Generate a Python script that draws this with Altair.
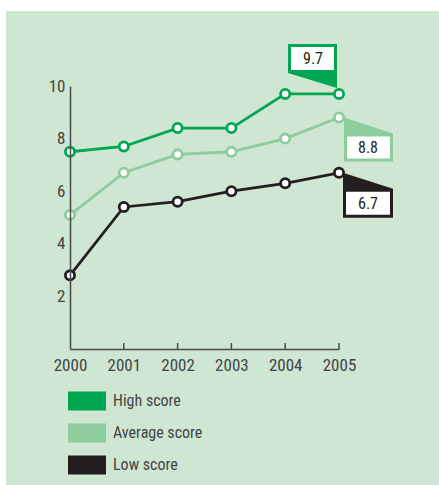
import altair as alt
import pandas as pd

years = [2000, 2001, 2002, 2003, 2004, 2005]
series_names = ["High score", "Average score", "Low score"]
high = [7.5, 7.7, 8.4, 8.4, 9.7, 9.7]
average = [5.1, 6.7, 7.4, 7.5, 8.0, 8.8]
low = [2.8, 5.4, 5.6, 6.0, 6.3, 6.7]
colors = ["#00a651", "#8dcc9d", "#231f20"]
y_ticks = [2, 4, 6, 8, 10]

FONT = "Liberation Sans Narrow, Roboto Condensed, DejaVu Sans Condensed, Arial Narrow, sans-serif"

rows = []
for name, vals in zip(series_names, [high, average, low]):
    for yr, v in zip(years, vals):
        rows.append({"series": name, "year": yr, "value": v})
df = pd.DataFrame(rows)

# callouts for last values (shapes are relative to the data point, in pixels)
outer_paths = [
    "M-51,-50L-2,-50L-2,-6L-51,-21Z",
    "M5,0L54,16L54,44L5,44Z",
    "M4,0L54,16L54,45L4,45Z",
]
inner_paths = [
    "M-48,-47L-5,-47L-5,-24L-48,-24Z",
    "M8,19L51,19L51,41L8,41Z",
    "M7,19L51,19L51,42L7,42Z",
]
text_dx = [-26, 29, 29]
text_dy = [-35, 30, 31]
call = pd.DataFrame({
    "series": series_names,
    "year": [years[-1]] * 3,
    "value": [high[-1], average[-1], low[-1]],
    "outer": outer_paths,
    "inner": inner_paths,
    "label": [f"{v:.1f}" for v in [high[-1], average[-1], low[-1]]],
})

xs = alt.Scale(domain=[2000, 2005], nice=False, zero=False)
ys = alt.Scale(domain=[0, 10], nice=False)

X = alt.X("year:Q", scale=xs, axis=alt.Axis(values=years, format="d", title=None, grid=False,
          tickSize=0, labelPadding=8, labelFontSize=17, labelColor="#444444", labelFont=FONT,
          domainColor="#4a4a4a", domainWidth=1.5, labelFlush=False, zindex=1))
Y = alt.Y("value:Q", scale=ys, axis=alt.Axis(values=y_ticks, title=None, grid=False, tickSize=0,
          labelPadding=5, labelFontSize=17, labelColor="#444444", labelFont=FONT,
          domainColor="#4a4a4a", domainWidth=1.5, zindex=1))

bg = alt.Chart(pd.DataFrame({"a": [1]})).mark_rect(color="#cfe6d3").encode(
    x=alt.value(-64), x2=alt.value(369), y=alt.value(-75), y2=alt.value(399))

ticks = alt.Chart(pd.DataFrame({"year": years[1:]})).mark_rule(color="#4a4a4a", strokeWidth=1.5).encode(
    x=alt.X("year:Q", scale=xs), y=alt.value(257), y2=alt.value(263))

base_c = alt.Chart(call)
outer = base_c.mark_point(filled=True, opacity=1, size=4, strokeWidth=0).encode(
    x=alt.X("year:Q", scale=xs), y=alt.Y("value:Q", scale=ys),
    shape=alt.Shape("outer:N", scale=None),
    fill=alt.Fill("series:N", scale=alt.Scale(domain=series_names, range=colors),
                  legend=alt.Legend(title=None, orient="none", legendX=-2, legendY=296,
                                    symbolType="M-1,-0.5L1,-0.5L1,0.5L-1,0.5Z", symbolSize=1444,
                                    symbolStrokeWidth=0, labelFontSize=16, labelFont=FONT,
                                    labelColor="#444444", labelOffset=7, rowPadding=3, padding=0,
                                    symbolOpacity=1)),
)
inner = base_c.mark_point(filled=True, opacity=1, size=4, strokeWidth=0, color="white").encode(
    x=alt.X("year:Q", scale=xs), y=alt.Y("value:Q", scale=ys),
    shape=alt.Shape("inner:N", scale=None),
)
texts = []
for i in range(3):
    texts.append(alt.Chart(call.iloc[[i]]).mark_text(dx=text_dx[i], dy=text_dy[i], fontSize=16,
                 font=FONT, color="#231f20").encode(
        x=alt.X("year:Q", scale=xs), y=alt.Y("value:Q", scale=ys), text="label:N"))

color = alt.Color("series:N", scale=alt.Scale(domain=series_names, range=colors), legend=None)
lines = alt.Chart(df).mark_line(strokeWidth=2.8).encode(
    x=X, y=Y, color=color, detail="series:N")
points = alt.Chart(df).mark_point(filled=False, fill="white", opacity=1, size=85, strokeWidth=2.8).encode(
    x=alt.X("year:Q", scale=xs), y=alt.Y("value:Q", scale=ys), color=color)

chart = alt.layer(bg, outer, inner, *texts, ticks, lines, points).properties(
    width=269, height=263,
    autosize=alt.AutoSizeParams(type="none"),
    padding={"left": 70, "top": 86, "right": 100, "bottom": 136},
    background="white",
).configure_view(stroke=None)

chart.save("out.html", embed_options={"renderer": "svg", "actions": False})
